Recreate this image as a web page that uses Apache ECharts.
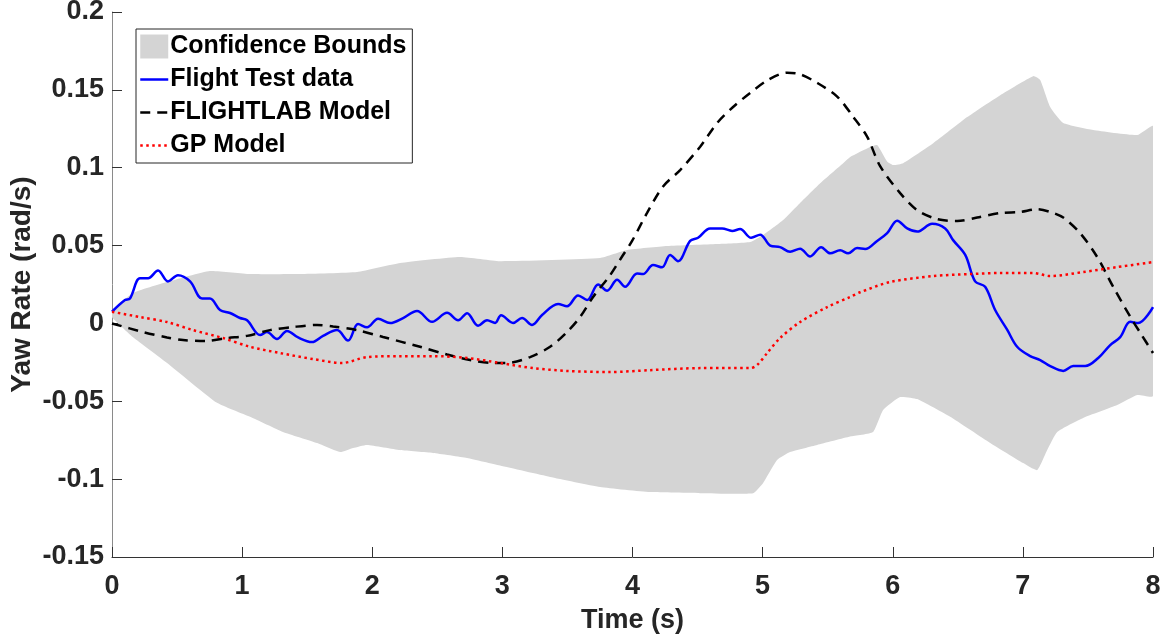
<!DOCTYPE html>
<html>
<head>
<meta charset="utf-8">
<script src="https://cdn.jsdelivr.net/npm/echarts@6/dist/echarts.min.js"></script>
<style>
html,body{margin:0;padding:0;background:#fff;}
#chart{width:1164px;height:638px;}
</style>
</head>
<body>
<div id="chart"></div>
<script>
// ---- Data ----
var xTicks = [0, 1, 2, 3, 4, 5, 6, 7, 8];
var yTicks = [-0.15, -0.1, -0.05, 0, 0.05, 0.1, 0.15, 0.2];

// Confidence bounds: upper edge
var upperT = [0, 0.16, 0.423, 0.753, 1.061, 1.445, 1.883, 2.214, 2.675, 2.982, 3.751, 3.958, 4.266, 4.650, 4.904, 5.004, 5.158, 5.288, 5.442, 5.619, 5.673, 5.826, 5.880, 5.957, 6.003, 6.080, 6.311, 6.572, 6.826, 7.079, 7.133, 7.210, 7.310, 7.540, 7.879, 8.0];
var upperV = [0.0075, 0.0195, 0.0266, 0.0337, 0.0317, 0.0317, 0.033, 0.0388, 0.0427, 0.040, 0.042, 0.0471, 0.0497, 0.051, 0.0523, 0.0568, 0.0664, 0.0773, 0.090, 0.1029, 0.1069, 0.1133, 0.1146, 0.1040, 0.1017, 0.1029, 0.1157, 0.1325, 0.1466, 0.1588, 0.1563, 0.139, 0.1287, 0.1242, 0.121, 0.1268];
// Confidence bounds: lower edge
var lowerT = [0, 0.16, 0.423, 0.807, 1.061, 1.314, 1.576, 1.753, 1.853, 1.960, 2.214, 2.467, 2.729, 2.982, 3.367, 3.751, 4.135, 4.520, 4.927, 5.004, 5.111, 5.211, 5.419, 5.673, 5.849, 5.926, 6.057, 6.188, 6.441, 6.749, 7.002, 7.110, 7.187, 7.264, 7.463, 7.725, 7.879, 8.0];
var lowerV = [0.004, -0.0087, -0.0254, -0.051, -0.060, -0.0697, -0.0768, -0.0826, -0.080, -0.078, -0.0813, -0.0832, -0.0864, -0.0913, -0.0986, -0.105, -0.1083, -0.109, -0.109, -0.1025, -0.0877, -0.0826, -0.078, -0.0726, -0.0697, -0.0556, -0.0473, -0.0486, -0.060, -0.0768, -0.0897, -0.0942, -0.0813, -0.0697, -0.0607, -0.0524, -0.046, -0.0466];

// Flight Test data
var flightT = [0, 0.10, 0.138, 0.215, 0.277, 0.354, 0.430, 0.507, 0.600, 0.692, 0.753, 0.830, 0.907, 0.984, 1.038, 1.138, 1.191, 1.268, 1.345, 1.430, 1.537, 1.622, 1.729, 1.814, 1.891, 1.960, 2.045, 2.137, 2.237, 2.344, 2.460, 2.575, 2.660, 2.729, 2.813, 2.882, 2.944, 2.990, 3.082, 3.151, 3.228, 3.305, 3.428, 3.497, 3.582, 3.651, 3.736, 3.805, 3.882, 3.943, 4.035, 4.081, 4.158, 4.227, 4.289, 4.350, 4.443, 4.504, 4.596, 4.689, 4.766, 4.827, 4.912, 4.981, 5.058, 5.134, 5.211, 5.288, 5.365, 5.450, 5.519, 5.596, 5.657, 5.726, 5.788, 5.880, 5.957, 6.034, 6.111, 6.188, 6.303, 6.403, 6.464, 6.557, 6.633, 6.710, 6.787, 6.879, 6.956, 7.056, 7.133, 7.210, 7.310, 7.387, 7.479, 7.579, 7.671, 7.748, 7.825, 7.886, 8.0];
var flightV = [0.0075, 0.015, 0.016, 0.029, 0.029, 0.034, 0.027, 0.031, 0.027, 0.016, 0.016, 0.0086, 0.0067, 0.0035, 0.002, -0.0075, -0.0055, -0.010, -0.0048, -0.009, -0.012, -0.008, -0.0043, -0.011, -0.0004, -0.0025, 0.003, 0.0002, 0.0034, 0.008, 0.001, 0.0068, 0.002, 0.0066, -0.0015, 0.002, 0.0003, 0.0052, 0.0003, 0.0035, -0.001, 0.0054, 0.0125, 0.011, 0.018, 0.015, 0.025, 0.021, 0.028, 0.0235, 0.032, 0.0317, 0.0375, 0.036, 0.044, 0.040, 0.053, 0.055, 0.061, 0.061, 0.0594, 0.0606, 0.055, 0.057, 0.050, 0.049, 0.046, 0.048, 0.043, 0.049, 0.045, 0.047, 0.045, 0.0484, 0.0478, 0.053, 0.058, 0.066, 0.061, 0.059, 0.064, 0.061, 0.0535, 0.044, 0.027, 0.0235, 0.0086, -0.004, -0.015, -0.021, -0.0235, -0.0274, -0.0305, -0.0274, -0.0274, -0.0222, -0.0139, -0.0088, 0.0010, 0.0002, 0.0105];

// FLIGHTLAB Model
var flightlabT = [0, 0.238, 0.423, 0.546, 0.715, 0.884, 1.038, 1.214, 1.391, 1.576, 1.699, 1.883, 2.083, 2.367, 2.575, 2.752, 2.928, 3.036, 3.213, 3.367, 3.497, 3.597, 3.697, 3.828, 3.920, 3.997, 4.112, 4.235, 4.366, 4.520, 4.650, 4.773, 4.904, 5.035, 5.188, 5.288, 5.419, 5.573, 5.696, 5.803, 5.903, 6.057, 6.188, 6.341, 6.495, 6.649, 6.826, 6.979, 7.110, 7.210, 7.310, 7.440, 7.571, 7.694, 7.825, 7.902, 8.0];
var flightlabV = [0, -0.0055, -0.009, -0.0107, -0.0113, -0.0094, -0.008, -0.0043, -0.0023, -0.001, -0.002, -0.0043, -0.0087, -0.015, -0.020, -0.0235, -0.0254, -0.0254, -0.0216, -0.015, -0.0055, 0.0041, 0.017, 0.031, 0.043, 0.053, 0.071, 0.088, 0.0985, 0.1135, 0.1287, 0.139, 0.148, 0.156, 0.161, 0.160, 0.1545, 0.1457, 0.1327, 0.120, 0.101, 0.0837, 0.0727, 0.067, 0.0658, 0.068, 0.0709, 0.0716, 0.0733, 0.0716, 0.068, 0.058, 0.0427, 0.0235, 0.0043, -0.006, -0.019];

// GP Model
var gpT = [0, 0.215, 0.423, 0.623, 0.853, 1.061, 1.291, 1.545, 1.768, 1.960, 2.214, 2.467, 2.729, 2.982, 3.236, 3.497, 3.828, 4.135, 4.520, 4.904, 4.958, 5.035, 5.134, 5.288, 5.496, 5.673, 5.749, 5.980, 6.311, 6.595, 6.826, 7.079, 7.210, 7.463, 7.725, 8.0];
var gpV = [0.0075, 0.0041, 0.0009, -0.0043, -0.0094, -0.015, -0.019, -0.0229, -0.0254, -0.0216, -0.021, -0.021, -0.0222, -0.0254, -0.0287, -0.0305, -0.0312, -0.030, -0.0287, -0.0287, -0.0267, -0.019, -0.0094, 0.0009, 0.0105, 0.017, 0.020, 0.0266, 0.0304, 0.0317, 0.0324, 0.0324, 0.0304, 0.033, 0.0362, 0.0394];

function pairs(t, v) { return t.map(function (x, i) { return [x, v[i]]; }); }

var FONT = 'Liberation Sans, Arial, Helvetica, sans-serif';
var TXT = '#262626';

var chart = echarts.init(document.getElementById('chart'), null, {renderer: 'canvas'});
chart.setOption({
  animation: false,
  backgroundColor: '#ffffff',
  grid: {left: 112, right: 11, top: 12, bottom: 81, containLabel: false, outerBoundsMode: 'none'},
  legend: {
    left: 136, top: 29, orient: 'vertical',
    backgroundColor: '#ffffff',
    borderColor: '#262626', borderWidth: 1,
    padding: [5, 6, 5, 3],
    itemWidth: 28, itemHeight: 24, itemGap: 8,
    textStyle: {fontFamily: FONT, fontWeight: 'bold', fontSize: 25, color: '#000', padding: [0, 0, 0, -3]},
    data: [
      {name: 'Confidence Bounds', icon: 'rect'},
      {name: 'Flight Test data', itemStyle: {opacity: 0}, lineStyle: {width: 2.5}},
      {name: 'FLIGHTLAB Model', itemStyle: {opacity: 0}, lineStyle: {width: 2.5}},
      {name: 'GP Model', itemStyle: {opacity: 0}, lineStyle: {width: 2.5}}
    ]
  },
  xAxis: {
    type: 'value', min: xTicks[0], max: xTicks[xTicks.length - 1], interval: 1,
    name: 'Time (s)', nameLocation: 'middle', nameGap: 50, nameMoveOverlap: false,
    nameTextStyle: {fontFamily: FONT, fontWeight: 'bold', fontSize: 27, color: TXT},
    axisLine: {show: true, onZero: false, lineStyle: {color: '#333333', width: 1}},
    axisTick: {show: true, inside: true, length: 10, lineStyle: {color: '#333333'}},
    axisLabel: {margin: 16, fontFamily: FONT, fontWeight: 'bold', fontSize: 27, color: TXT},
    splitLine: {show: false}
  },
  yAxis: {
    type: 'value', min: yTicks[0], max: yTicks[yTicks.length - 1], interval: 0.05,
    name: 'Yaw Rate (rad/s)', nameLocation: 'middle', nameGap: 76, nameMoveOverlap: false,
    nameTextStyle: {fontFamily: FONT, fontWeight: 'bold', fontSize: 28, color: TXT},
    axisLine: {show: true, onZero: false, lineStyle: {color: '#8a8a8a', width: 1}},
    axisTick: {show: true, inside: true, length: 10, lineStyle: {color: '#333333'}},
    axisLabel: {margin: 8, fontFamily: FONT, fontWeight: 'bold', fontSize: 27, color: TXT,
      formatter: function (v) { return String(Math.round(v * 100) / 100); }},
    splitLine: {show: false}
  },
  series: [
    {
      name: 'Confidence Bounds', type: 'custom', z: 1,
      itemStyle: {color: '#d4d4d4'},
      data: [[0, 0]],
      clip: true,
      renderItem: function (params, api) {
        var pts = [];
        for (var i = 0; i < upperT.length; i++) pts.push(api.coord([upperT[i], upperV[i]]));
        for (var j = lowerT.length - 1; j >= 0; j--) pts.push(api.coord([lowerT[j], lowerV[j]]));
        return {type: 'polygon', shape: {points: pts, smooth: 0.15}, style: {fill: '#d4d4d4', stroke: null}};
      }
    },
    {
      name: 'Flight Test data', type: 'line', z: 2, symbol: 'none', smooth: 0.35,
      lineStyle: {color: '#0000ff', width: 2.5},
      itemStyle: {color: '#0000ff'},
      data: pairs(flightT, flightV)
    },
    {
      name: 'FLIGHTLAB Model', type: 'line', z: 3, symbol: 'none', smooth: 0.3,
      lineStyle: {color: '#000000', width: 2.5, type: [10, 7]},
      itemStyle: {color: '#000000'},
      data: pairs(flightlabT, flightlabV)
    },
    {
      name: 'GP Model', type: 'line', z: 4, symbol: 'none', smooth: 0.3,
      lineStyle: {color: '#ff0000', width: 2.5, type: [2.5, 3.5]},
      itemStyle: {color: '#ff0000'},
      data: pairs(gpT, gpV)
    }
  ]
});
</script>
</body>
</html>
